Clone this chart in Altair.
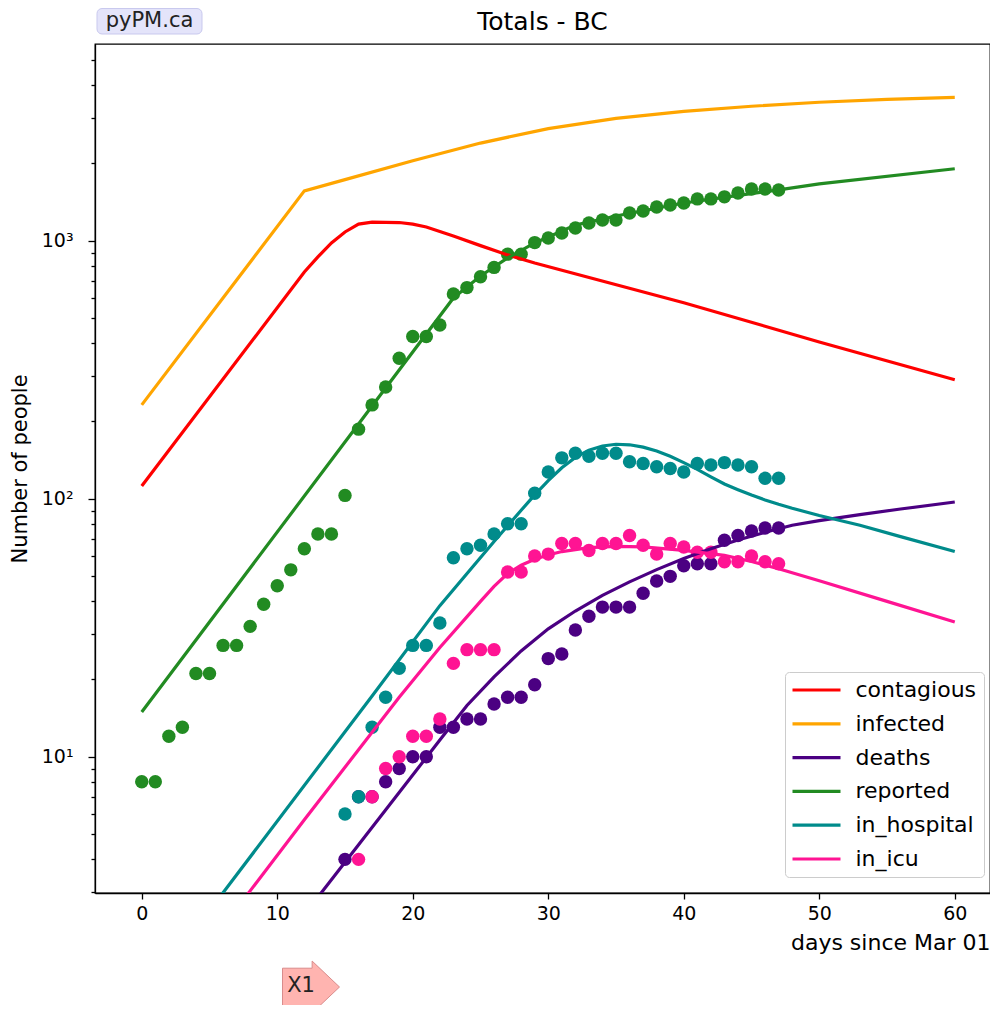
import altair as alt
import pandas as pd

SERIES = ["contagious", "infected", "deaths", "reported", "in_hospital", "in_icu"]
COLORS = ["#ff0000", "#ffa500", "#4b0082", "#228b22", "#008b8b", "#ff1493"]

# ---- model curves (day, value) ----
contagious_days = [0, 12, 13, 14, 15, 16, 17, 19, 20, 21, 23, 25, 27, 29, 40, 50, 60]
contagious_vals = [112, 756, 865, 980, 1081, 1160, 1181, 1176, 1160, 1130, 1043, 957, 881, 820, 575, 405, 289]

infected_days = [0, 12, 15, 20, 25, 30, 35, 40, 45, 50, 55, 60]
infected_vals = [231, 1560, 1725, 2040, 2390, 2720, 2980, 3170, 3320, 3440, 3530, 3592]

deaths_days = [0, 22, 24, 26, 28, 30, 32, 34, 36, 38, 40, 42, 44, 46, 48, 50, 53, 56, 60]
deaths_vals = [0.377, 11.6, 15.8, 20.4, 25.7, 31.3, 36.7, 42.2, 47.6, 53.1, 58.6, 64.0, 69.2,
               74.1, 78.9, 82.2, 86.7, 91.2, 97.1]

reported_days = [0, 23, 25, 27, 29, 32, 35, 40, 47, 50, 60]
reported_vals = [14.9, 600, 730, 857, 980, 1151, 1247, 1400, 1573, 1660, 1900]

hospital_days = [0, 6, 17, 22, 26, 28, 29, 30, 31, 32, 33, 34, 35, 36, 37, 38, 39, 40, 41, 42,
                 43, 44, 45, 46, 47, 48, 50, 53, 56, 60]
hospital_vals = [1.14, 2.97, 17.2, 38.5, 68.2, 90.2, 103.5, 117.5, 131.8, 144.5, 154.2, 160,
                 162.6, 161.8, 158.5, 153, 146, 138, 130, 121.6, 114, 108.4, 103.3, 98.9,
                 95.1, 91.8, 86.1, 78.9, 71.3, 62.4]

icu_days = [0, 8, 12, 19, 22, 25, 26, 27, 28, 29, 30, 31, 33, 35, 37, 40, 43, 45, 47, 50, 55, 60]
icu_vals = [0.86, 3.02, 5.7, 17, 26.5, 40, 45.7, 51.3, 55.2, 58.2, 60.5, 62.4, 64.6, 65.3, 65,
            63.1, 60.3, 57.1, 53.5, 48.1, 40, 33.3]

# ---- observed data (consecutive days starting at *_start) ----
reported_start = 0
reported_obs = [8, 8, 12, 13, 21, 21, 27, 27, 32, 39, 46, 53, 64, 73, 73, 103, 186, 231, 271, 350,
                425, 425, 471, 621, 658, 725, 788, 887, 887, 983, 1024, 1071, 1120, 1171, 1203,
                1203, 1280, 1303, 1351, 1375, 1400, 1452, 1452, 1479, 1531, 1586, 1586, 1573]
deaths_start = 15
deaths_obs = [4, 7, 7, 8, 9, 10, 10, 13, 13, 14, 14, 16, 17, 17, 19, 24, 25, 31, 35, 38, 38, 38,
              43, 48, 50, 55, 56, 56, 69, 72, 75, 77, 77]
hospital_start = 15
hospital_obs = [6, 7, 13, 17, 22, 27, 27, 33, 59, 64, 66, 73, 80, 80, 105, 127, 144, 150, 146, 150,
                150, 139, 137, 133, 131, 127, 137, 135, 138, 135, 133, 120, 120]
icu_start = 16
icu_obs = [4, 7, 9, 10, 12, 12, 14, 23, 26, 26, 26, 52, 52, 60, 61, 67, 67, 63, 67, 67, 72, 66, 61,
           67, 65, 62, 62, 57, 57, 60, 57, 56]

x_ticks = [0, 10, 20, 30, 40, 50, 60]
y_ticks = [3, 4, 5, 6, 7, 8, 9, 10, 20, 30, 40, 50, 60, 70, 80, 90, 100, 200, 300, 400, 500,
           600, 700, 800, 900, 1000, 2000, 3000, 4000, 5000]

# ---- tables ----
line_rows = []
for name, ds, vs in [("contagious", contagious_days, contagious_vals),
                     ("infected", infected_days, infected_vals),
                     ("deaths", deaths_days, deaths_vals),
                     ("reported", reported_days, reported_vals),
                     ("in_hospital", hospital_days, hospital_vals),
                     ("in_icu", icu_days, icu_vals)]:
    for d, v in zip(ds, vs):
        line_rows.append({"series": name, "day": d, "value": v})
lines_df = pd.DataFrame(line_rows)

pt_rows = []
for name, start, vs in [("deaths", deaths_start, deaths_obs),
                        ("reported", reported_start, reported_obs),
                        ("in_hospital", hospital_start, hospital_obs),
                        ("in_icu", icu_start, icu_obs)]:
    for i, v in enumerate(vs):
        pt_rows.append({"series": name, "day": start + i, "value": v})
pts_df = pd.DataFrame(pt_rows)

FONT = "DejaVu Sans"
x_scale = alt.Scale(domain=[-3.45, 62.6], nice=False, zero=False)
y_scale = alt.Scale(type="log", domain=[2.963, 5786], nice=False)

x_axis = alt.Axis(values=x_ticks, title="days since Mar 01", grid=False, tickSize=6,
                  labelFontSize=19, labelPadding=5, titleFontSize=22, titleAnchor="end",
                  titlePadding=9, format="d", labelFlush=False)
y_axis = alt.Axis(values=y_ticks,
                  labelExpr="datum.value == 10 ? '10\u00b9' : datum.value == 100 ? '10\u00b2' : datum.value == 1000 ? '10\u00b3' : ''",
                  tickSize={"condition": {"test": "indexof([10, 100, 1000], datum.value) >= 0", "value": 7}, "value": 4},
                  labelFontSize=19, labelPadding=15, title="Number of people", titleFontSize=21,
                  titlePadding=11, grid=False, labelOverlap=False)

points = alt.Chart(pts_df).mark_circle(size=180, opacity=1).encode(
    x=alt.X("day:Q", scale=x_scale, axis=x_axis),
    y=alt.Y("value:Q", scale=y_scale, axis=y_axis),
    color=alt.Color("series:N", scale=alt.Scale(domain=SERIES, range=COLORS), legend=None),
)

lines = alt.Chart(lines_df).mark_line(strokeWidth=3.2, clip=True).encode(
    x=alt.X("day:Q", scale=x_scale),
    y=alt.Y("value:Q", scale=y_scale),
    color=alt.Color("series:N", scale=alt.Scale(domain=SERIES, range=COLORS), sort=SERIES,
                    legend=alt.Legend(title=None, orient="none", legendX=690, legendY=628,
                                      symbolType="M-3,0L3,0", symbolSize=256, symbolStrokeWidth=3.2,
                                      symbolOffset=13.5, labelOffset=28, labelFontSize=22,
                                      labelFont=FONT, labelColor="black", rowPadding=11.8,
                                      padding=7, fillColor="white", strokeColor="#cccccc",
                                      cornerRadius=4)),
)

title_df = pd.DataFrame({"t": ["Totals - BC"]})
title = alt.Chart(title_df).mark_text(fontSize=25, font=FONT, baseline="middle", align="center",
                                      color="black").encode(
    x=alt.value(447.5), y=alt.value(-22), text="t:N")

badge_df = pd.DataFrame({"t": ["pyPM.ca"]})
badge_box = alt.Chart(badge_df).mark_rect(cornerRadius=5, fill="#e4e4fa", stroke="#c9c9ee",
                                          strokeWidth=1).encode(
    x=alt.value(2), x2=alt.value(107), y=alt.value(-35.5), y2=alt.value(-10))
badge_text = alt.Chart(badge_df).mark_text(fontSize=21, font=FONT, baseline="middle", align="center",
                                           color="#222222").encode(
    x=alt.value(54.5), y=alt.value(-23), text="t:N")

arrow_df = pd.DataFrame({"t": ["X1"]})
arrow = alt.Chart(arrow_df).mark_point(
    shape="M-1,-0.66L0.04,-0.66L0.04,-0.91L1,0L0.04,0.91L0.04,0.66L-1,0.66Z",
    size=3249, filled=True, fill="#ffb4b0", stroke="#d98c8c", strokeWidth=1, opacity=1).encode(
    x=alt.value(216), y=alt.value(943))
arrow_text = alt.Chart(arrow_df).mark_text(fontSize=21, font=FONT, baseline="middle", align="center",
                                           color="#222222").encode(
    x=alt.value(206), y=alt.value(942), text="t:N")

chart = alt.layer(points, lines, title, badge_box, badge_text, arrow, arrow_text).resolve_scale(
    color="independent"
).properties(
    width=895, height=849,
    autosize=alt.AutoSizeParams(type="none"),
    padding={"left": 87, "top": 36, "right": 0, "bottom": 112},
).configure(font=FONT).configure_view(
    stroke="black", strokeWidth=1.3
).configure_axis(
    labelColor="black", titleColor="black", tickColor="black", domainColor="black",
    domainWidth=1.3, tickWidth=1.3, labelFont=FONT, titleFont=FONT, titleFontWeight="normal"
)

chart.save("out.html", embed_options={"renderer": "svg", "actions": False})
